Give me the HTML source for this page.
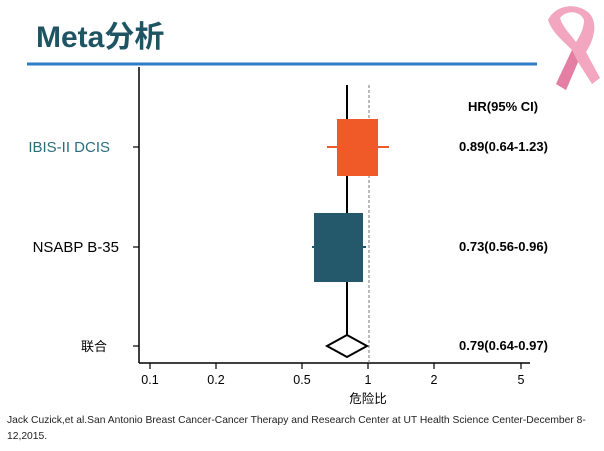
<!DOCTYPE html>
<html><head><meta charset="utf-8"><style>
body{margin:0;background:#fff;width:604px;height:451px;overflow:hidden;font-family:"Liberation Sans","Noto Sans CJK SC",sans-serif}
</style></head><body>
<svg width="604" height="451" xmlns="http://www.w3.org/2000/svg" style="position:absolute;left:0;top:0">
<text x="36" y="47" font-size="30" font-weight="bold" fill="#1f5563" font-family="Liberation Sans, Noto Sans CJK SC, sans-serif">Meta分析</text>
<line x1="27" y1="64" x2="537" y2="64" stroke="#2f7bc4" stroke-width="3"/>
<path d="M548 20 C556 4 578 2 590 14 C598 24 594 40 586 52 L600 78 L592 84 L578 62 L566 90 L556 84 L572 50 C562 40 552 32 548 20 Z M560 18 C566 10 580 10 584 20 C584 28 580 36 576 42 C570 34 562 26 560 18Z" fill="#f2a6c0" fill-rule="evenodd"/>
<path d="M572 50 L556 84 L566 90 L578 62Z" fill="#e57ea3"/>
<line x1="139" y1="67" x2="139" y2="363" stroke="#000" stroke-width="1.5"/>
<line x1="139" y1="363" x2="530" y2="363" stroke="#000" stroke-width="1.5"/>
<g stroke="#000" stroke-width="1.2">
<line x1="133" y1="147" x2="139" y2="147"/><line x1="133" y1="247" x2="139" y2="247"/><line x1="133" y1="346" x2="139" y2="346"/>
<line x1="150" y1="363" x2="150" y2="369"/><line x1="216" y1="363" x2="216" y2="369"/><line x1="302" y1="363" x2="302" y2="369"/><line x1="368" y1="363" x2="368" y2="369"/><line x1="434" y1="363" x2="434" y2="369"/><line x1="521" y1="363" x2="521" y2="369"/>
</g>
<g font-size="12.5" text-anchor="middle" fill="#000">
<text x="150" y="384">0.1</text><text x="216" y="384">0.2</text><text x="302" y="384">0.5</text><text x="368" y="384">1</text><text x="434" y="384">2</text><text x="521" y="384">5</text>
<text x="368" y="403">危险比</text>
</g>
<line x1="369" y1="85" x2="369" y2="363" stroke="#777" stroke-width="1" stroke-dasharray="3,2"/>
<line x1="347" y1="85" x2="347" y2="336" stroke="#000" stroke-width="2"/>
<line x1="327" y1="147" x2="389" y2="147" stroke="#f05a28" stroke-width="2"/>
<rect x="337" y="119" width="41" height="57" fill="#f05a28"/>
<line x1="312" y1="247" x2="366" y2="247" stroke="#23596a" stroke-width="2"/>
<rect x="314" y="213" width="49" height="69" fill="#23596a"/>
<polygon points="327,346 347,335 367,346 347,357" fill="#fff" stroke="#000" stroke-width="2"/>
<g font-size="15" text-anchor="end">
<text x="110" y="152" fill="#2a6e7c">IBIS-II DCIS</text>
<text x="119" y="252" fill="#000">NSABP B-35</text>
<text x="107" y="351" fill="#000" font-size="13">联合</text>
</g>
<g font-size="13" font-weight="bold" fill="#000">
<text x="468" y="111">HR(95% CI)</text>
<text x="459" y="151">0.89(0.64-1.23)</text>
<text x="459" y="251">0.73(0.56-0.96)</text>
<text x="459" y="350">0.79(0.64-0.97)</text>
</g>
<g font-size="10.3" fill="#222">
<text x="7" y="423">Jack Cuzick,et al.San Antonio Breast Cancer-Cancer Therapy and Research Center at UT Health Science Center-December 8-</text>
<text x="7" y="439">12,2015.</text>
</g>
</svg>
</body></html>
